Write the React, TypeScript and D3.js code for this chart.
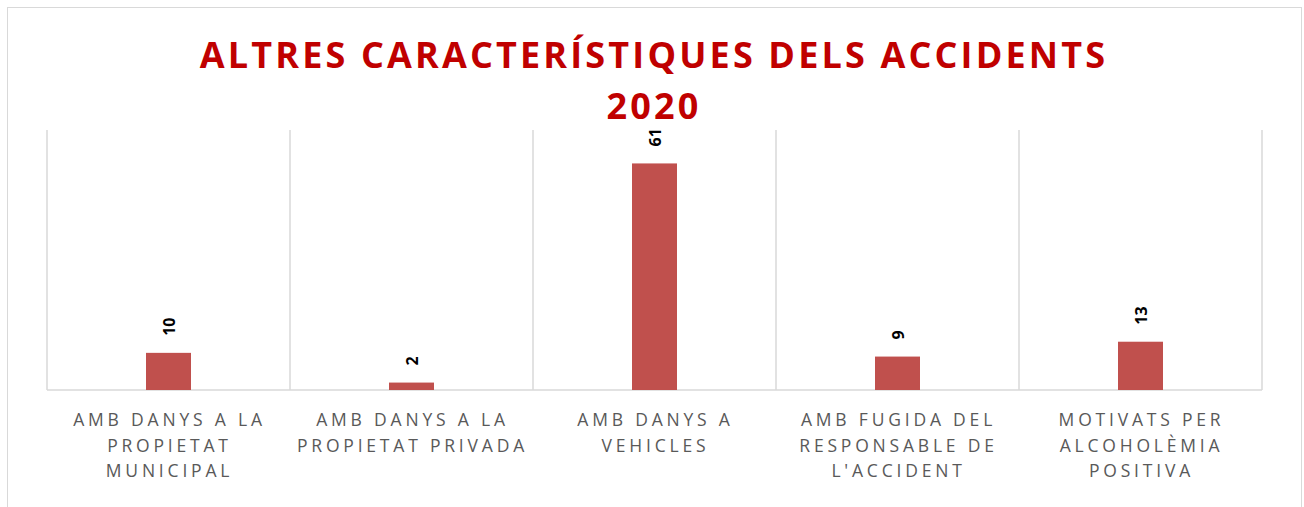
import React from "react";
import * as d3 from "d3";

const categories = [
  "AMB DANYS A LA PROPIETAT MUNICIPAL",
  "AMB DANYS A LA PROPIETAT PRIVADA",
  "AMB DANYS A VEHICLES",
  "AMB FUGIDA DEL RESPONSABLE DE L'ACCIDENT",
  "MOTIVATS PER ALCOHOLÈMIA POSITIVA",
];
// how each category label wraps on the axis
const categoryLines = [
  ["AMB DANYS A LA", "PROPIETAT", "MUNICIPAL"],
  ["AMB DANYS A LA", "PROPIETAT PRIVADA"],
  ["AMB DANYS A", "VEHICLES"],
  ["AMB FUGIDA DEL", "RESPONSABLE DE", "L'ACCIDENT"],
  ["MOTIVATS PER", "ALCOHOLÈMIA", "POSITIVA"],
];
const values = [10, 2, 61, 9, 13];
const titleLines = ["ALTRES CARACTERÍSTIQUES DELS ACCIDENTS", "2020"];

const W = 1304;
const H = 507;
const margin = { top: 130, right: 42, bottom: 117, left: 47 };
const font = "'Open Sans', 'DejaVu Sans', sans-serif";

export default function App() {
  const x = d3
    .scaleBand<string>()
    .domain(categories)
    .range([margin.left, W - margin.right]);
  const y = d3
    .scaleLinear()
    .domain([0, 70])
    .range([H - margin.bottom, margin.top]);

  const barW = 45;
  const base = y(0);
  const grid = categories.map((c) => x(c)!).concat([W - margin.right]);

  return (
    <svg
      width={W}
      height={H}
      style={{ position: "absolute", left: 0, top: 0, background: "#fff" }}
    >
      {/* chart frame */}
      <rect x={7.5} y={7.5} width={1294} height={520} fill="none" stroke="#d9d9d9" />

      {titleLines.map((t, i) => (
        <text
          key={i}
          x={W / 2 + 2}
          y={68 + i * 51}
          textAnchor="middle"
          fontFamily={font}
          fontWeight="bold"
          fontSize={36}
          letterSpacing={3.15}
          fill="#c00000"
        >
          {t}
        </text>
      ))}

      {/* vertical category separators */}
      {grid.map((gx, i) => (
        <line
          key={i}
          x1={gx}
          x2={gx}
          y1={margin.top}
          y2={base}
          stroke="#d9d9d9"
          strokeWidth={1.5}
        />
      ))}
      <line x1={margin.left} x2={W - margin.right} y1={base} y2={base} stroke="#d9d9d9" strokeWidth={1.5} />

      {categories.map((c, i) => {
        const cx = x(c)! + x.bandwidth() / 2;
        const top = y(values[i]);
        return (
          <g key={c}>
            <rect x={cx - barW / 2} y={top} width={barW} height={base - top} fill="#c0504d" />
            <text
              transform={`translate(${cx + 6},${top - 17}) rotate(-90)`}
              fontFamily={font}
              fontWeight="bold"
              fontSize={16}
              fill="#000"
            >
              {values[i]}
            </text>
            {categoryLines[i].map((l, j) => (
              <text
                key={j}
                x={cx + 1}
                y={426 + j * 25.5}
                textAnchor="middle"
                fontFamily={font}
                fontSize={17.5}
                letterSpacing={3.8}
                fill="#595959"
              >
                {l}
              </text>
            ))}
          </g>
        );
      })}
    </svg>
  );
}
